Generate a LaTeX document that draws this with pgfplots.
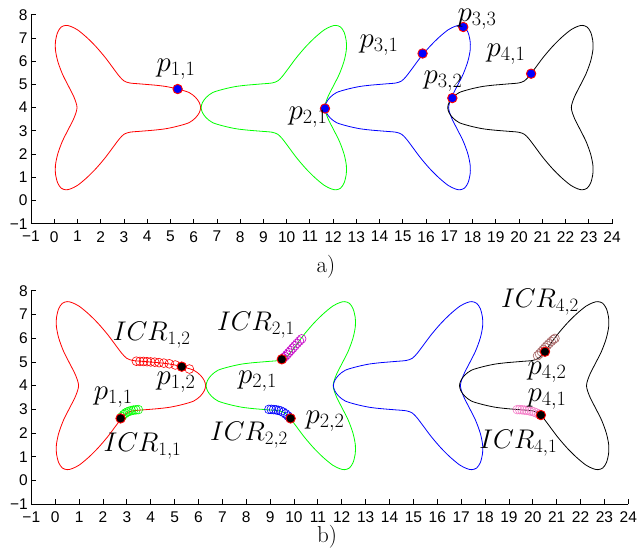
\RequirePackage{fix-cm}
\documentclass[border=0pt]{standalone}
\usepackage{fontspec}
\usepackage{pgfplots}
\usepackage{pgfplotstable}
\pgfplotsset{compat=1.18}
\newfontfamily\helv{Liberation Sans}
\definecolor{mygreen}{rgb}{0,1,0}
\definecolor{mymag}{rgb}{0.78,0,0.78}
\definecolor{mypink}{RGB}{245,125,200}
\definecolor{mybrown}{RGB}{165,100,100}

\pgfplotstableread{
x y
4.30 4.97
4.80 4.91
5.31 4.80
5.80 4.65
6.08 4.44
6.24 4.22
6.30 4.00
6.24 3.78
6.08 3.56
5.80 3.35
5.31 3.20
4.80 3.09
4.30 3.03
3.70 2.98
3.25 2.94
3.00 2.85
2.80 2.65
2.55 2.32
2.20 1.85
1.80 1.38
1.40 0.98
1.00 0.65
0.70 0.50
0.50 0.46
0.30 0.53
0.15 0.75
0.06 1.10
0.05 1.50
0.15 2.00
0.35 2.55
0.60 3.05
0.85 3.55
0.98 4.00
0.85 4.45
0.60 4.95
0.35 5.45
0.15 6.00
0.05 6.50
0.06 6.90
0.15 7.25
0.30 7.47
0.50 7.54
0.70 7.50
1.00 7.35
1.40 7.02
1.80 6.62
2.20 6.15
2.55 5.68
2.80 5.35
3.00 5.15
3.25 5.06
3.70 5.02
4.30 4.97
}\redshape

\pgfplotstableread{
x y
8.32 4.97
7.82 4.91
7.31 4.80
6.82 4.65
6.54 4.44
6.38 4.22
6.32 4.00
6.38 3.78
6.54 3.56
6.82 3.35
7.31 3.20
7.82 3.09
8.32 3.03
8.92 2.98
9.37 2.94
9.62 2.85
9.82 2.65
10.07 2.32
10.42 1.85
10.82 1.38
11.22 0.98
11.62 0.65
11.92 0.50
12.12 0.46
12.32 0.53
12.47 0.75
12.56 1.10
12.57 1.50
12.47 2.00
12.27 2.55
12.02 3.05
11.77 3.55
11.64 4.00
11.77 4.45
12.02 4.95
12.27 5.45
12.47 6.00
12.57 6.50
12.56 6.90
12.47 7.25
12.32 7.47
12.12 7.54
11.92 7.50
11.62 7.35
11.22 7.02
10.82 6.62
10.42 6.15
10.07 5.68
9.82 5.35
9.62 5.15
9.37 5.06
8.92 5.02
8.32 4.97
}\greenshape

\pgfplotstableread{
x y
13.65 4.97
13.15 4.91
12.64 4.80
12.15 4.65
11.87 4.44
11.71 4.22
11.65 4.00
11.71 3.78
11.87 3.56
12.15 3.35
12.64 3.20
13.15 3.09
13.65 3.03
14.25 2.98
14.70 2.94
14.95 2.85
15.15 2.65
15.40 2.32
15.75 1.85
16.15 1.38
16.55 0.98
16.95 0.65
17.25 0.50
17.45 0.46
17.65 0.53
17.80 0.75
17.89 1.10
17.90 1.50
17.80 2.00
17.60 2.55
17.35 3.05
17.10 3.55
16.97 4.00
17.10 4.45
17.35 4.95
17.60 5.45
17.80 6.00
17.90 6.50
17.89 6.90
17.80 7.25
17.65 7.47
17.45 7.54
17.25 7.50
16.95 7.35
16.55 7.02
16.15 6.62
15.75 6.15
15.40 5.68
15.15 5.35
14.95 5.15
14.70 5.06
14.25 5.02
13.65 4.97
}\blueshape

\pgfplotstableread{
x y
18.93 4.97
18.43 4.91
17.92 4.80
17.43 4.65
17.15 4.44
16.99 4.22
16.93 4.00
16.99 3.78
17.15 3.56
17.43 3.35
17.92 3.20
18.43 3.09
18.93 3.03
19.53 2.98
19.98 2.94
20.23 2.85
20.43 2.65
20.68 2.32
21.03 1.85
21.43 1.38
21.83 0.98
22.23 0.65
22.53 0.50
22.73 0.46
22.93 0.53
23.08 0.75
23.17 1.10
23.18 1.50
23.08 2.00
22.88 2.55
22.63 3.05
22.38 3.55
22.25 4.00
22.38 4.45
22.63 4.95
22.88 5.45
23.08 6.00
23.18 6.50
23.17 6.90
23.08 7.25
22.93 7.47
22.73 7.54
22.53 7.50
22.23 7.35
21.83 7.02
21.43 6.62
21.03 6.15
20.68 5.68
20.43 5.35
20.23 5.15
19.98 5.06
19.53 5.02
18.93 4.97
}\blackshape

\pgfplotsset{
  panel/.style={
    scale only axis, anchor=south west,
    xmin=-1, xmax=24, ymin=-1, ymax=8,
    axis lines=left, axis line style={-, line width=0.9pt, black},
    tick align=inside, major tick length=5pt,
    tick style={black, line width=0.8pt},
    xtick={-1,0,...,24}, ytick={-1,0,...,8},
    xticklabels={−1,0,1,2,3,4,5,6,7,8,9,10,11,12,13,14,15,16,17,18,19,20,21,22,23,24},
    yticklabels={−1,0,1,2,3,4,5,6,7,8},
    tick label style={font=\helv\fontsize{15.5}{15.5}\selectfont},
    xticklabel style={yshift=-4pt},
    clip=false,
  },
  curve/.style={smooth, line width=0.8pt, mark=none},
  pdot/.style={only marks, mark=*, mark size=4.7pt, mark options={fill=blue, draw=red, line width=0.9pt}},
  kdot/.style={only marks, mark=*, mark size=4.7pt, mark options={fill=black, draw=red, line width=0.9pt}},
  ring/.style={only marks, mark=o, mark size=4.4pt, mark options={line width=0.6pt}},
}

\begin{document}
\begin{tikzpicture}
\path[use as bounding box] (0pt,0pt) rectangle (637pt,550pt);

% ---------- panel a ----------
\begin{axis}[panel, at={(31pt,326.3pt)}, width=581pt, height=209pt]
\addplot[curve, red] table {\redshape};
\addplot[curve, mygreen] table {\greenshape};
\addplot[curve, blue] table {\blueshape};
\addplot[curve, black] table {\blackshape};
\addplot[pdot] coordinates {(5.31,4.80) (11.65,3.96) (15.85,6.33) (17.13,4.41) (17.60,7.47) (20.52,5.46)};
\end{axis}

% ---------- panel b ----------
\begin{axis}[panel, at={(31.3pt,45.7pt)}, width=597pt, height=213.6pt]
\addplot[curve, red] table {\redshape};
\addplot[curve, mygreen] table {\greenshape};
\addplot[curve, blue] table {\blueshape};
\addplot[curve, black] table {\blackshape};
% ICR_{1,2}
\addplot[ring, red] coordinates {(3.40,5.03) (3.55,5.02) (3.70,5.02) (3.85,5.01) (4.00,5.00) (4.17,4.99) (4.35,4.97) (4.55,4.95) (4.78,4.92) (5.03,4.87) (5.30,4.80) (5.62,4.70)};
% ICR_{1,1}
\addplot[ring, mygreen] coordinates {(2.80,2.70) (2.87,2.78) (2.94,2.84) (3.02,2.89) (3.10,2.92) (3.19,2.95) (3.28,2.97) (3.38,2.98) (3.48,2.99)};
% ICR_{2,1}
\addplot[ring, mymag] coordinates {(9.55,5.16) (9.62,5.22) (9.70,5.30) (9.78,5.39) (9.86,5.48) (9.95,5.58) (10.04,5.68) (10.13,5.78) (10.23,5.88) (10.32,5.97)};
% ICR_{2,2}
\addplot[ring, blue] coordinates {(8.95,3.00) (9.05,3.00) (9.15,2.99) (9.25,2.98) (9.35,2.96) (9.45,2.93) (9.55,2.88) (9.65,2.81) (9.75,2.72) (9.83,2.64)};
% ICR_{4,2}
\addplot[ring, mybrown] coordinates {(20.20,5.26) (20.28,5.34) (20.36,5.43) (20.44,5.52) (20.52,5.61) (20.60,5.69) (20.68,5.77) (20.77,5.86) (20.86,5.94) (20.93,5.99)};
% ICR_{4,1}
\addplot[ring, mypink] coordinates {(19.35,2.99) (19.45,2.99) (19.55,2.98) (19.65,2.97) (19.75,2.96) (19.85,2.94) (19.95,2.92) (20.05,2.89) (20.15,2.85) (20.25,2.80)};
\addplot[kdot] coordinates {(5.30,4.80) (2.74,2.62) (9.49,5.11) (9.86,2.62) (20.51,5.43) (20.34,2.76)};
\end{axis}

% ---------- labels ----------
\tikzset{lab/.style={inner sep=0pt, font=\fontsize{29}{29}\selectfont},
         icr/.style={inner sep=0pt, font=\fontsize{27}{27}\selectfont}}
\node[lab] at (176pt,481pt) {$p_{1,1}$};
\node[lab] at (308pt,433pt) {$p_{2,1}$};
\node[lab] at (379pt,505pt) {$p_{3,1}$};
\node[lab] at (477pt,530.5pt) {$p_{3,3}$};
\node[lab] at (443pt,469pt) {$p_{3,2}$};
\node[lab] at (506pt,496pt) {$p_{4,1}$};
\node[inner sep=0pt, font=\fontsize{23}{23}\selectfont] at (326pt,283.7pt) {a)};

\node[icr] at (151.7pt,215pt) {$ICR_{1,2}$};
\node[lab] at (176pt,167.5pt) {$p_{1,2}$};
\node[lab] at (113.3pt,153pt) {$p_{1,1}$};
\node[icr] at (142.5pt,104pt) {$ICR_{1,1}$};
\node[icr] at (256pt,225pt) {$ICR_{2,1}$};
\node[lab] at (257.5pt,169pt) {$p_{2,1}$};
\node[icr] at (249pt,114.5pt) {$ICR_{2,2}$};
\node[lab] at (325pt,129pt) {$p_{2,2}$};
\node[icr] at (540pt,248.3pt) {$ICR_{4,2}$};
\node[lab] at (547pt,177.5pt) {$p_{4,2}$};
\node[lab] at (547pt,151pt) {$p_{4,1}$};
\node[icr] at (518.3pt,106.7pt) {$ICR_{4,1}$};
\node[inner sep=0pt, font=\fontsize{23}{23}\selectfont] at (327pt,13pt) {b)};
\end{tikzpicture}
\end{document}
